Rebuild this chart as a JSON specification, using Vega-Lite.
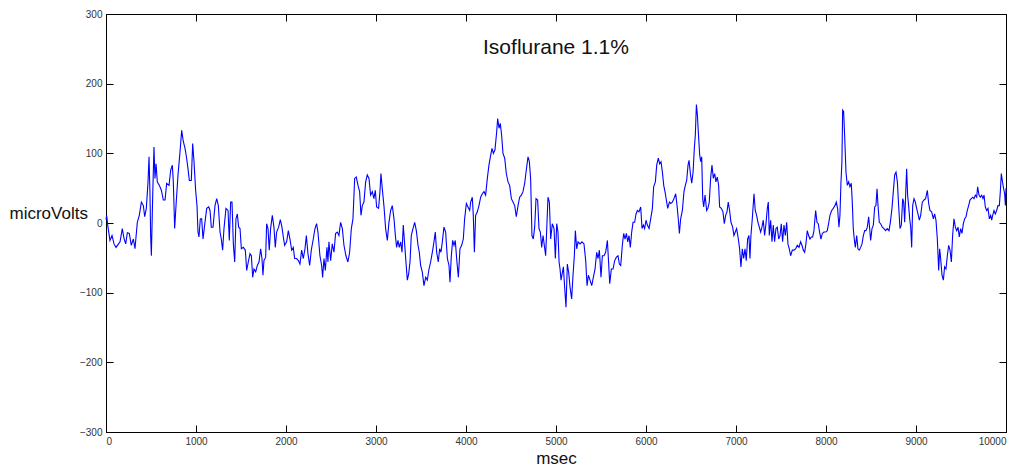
{
  "$schema": "https://vega.github.io/schema/vega-lite/v6.json",
  "width": 900,
  "height": 418,
  "autosize": {"type": "none"},
  "padding": {"left": 106, "top": 14, "right": 18, "bottom": 38},
  "background": "white",
  "title": {
    "text": "Isoflurane 1.1%",
    "frame": "group",
    "anchor": "middle",
    "offset": -49,
    "font": "Liberation Sans",
    "fontSize": 21,
    "fontWeight": "normal",
    "color": "#111111"
  },
  "data": {
    "values": [
      {"t":0,"v":5},{"t":7,"v":11},{"t":22,"v":-6},{"t":44,"v":-25},{"t":67,"v":-18},{"t":89,"v":-30},{"t":111,"v":-35},{"t":133,"v":-31},{"t":156,"v":-27},{"t":181,"v":-8},{"t":200,"v":-22},{"t":219,"v":-30},{"t":237,"v":-14},{"t":259,"v":-15},{"t":281,"v":-32},{"t":304,"v":-23},{"t":322,"v":-37},{"t":348,"v":1},{"t":370,"v":11},{"t":393,"v":30},{"t":415,"v":25},{"t":430,"v":9},{"t":448,"v":21},{"t":467,"v":59},{"t":478,"v":95},{"t":489,"v":40},{"t":496,"v":-18},{"t":504,"v":-47},{"t":519,"v":40},{"t":533,"v":109},{"t":544,"v":64},{"t":556,"v":85},{"t":570,"v":59},{"t":593,"v":54},{"t":615,"v":47},{"t":637,"v":33},{"t":656,"v":33},{"t":674,"v":57},{"t":700,"v":54},{"t":719,"v":76},{"t":737,"v":83},{"t":748,"v":59},{"t":763,"v":-8},{"t":778,"v":25},{"t":800,"v":69},{"t":819,"v":97},{"t":841,"v":133},{"t":859,"v":117},{"t":878,"v":107},{"t":896,"v":93},{"t":911,"v":78},{"t":926,"v":61},{"t":948,"v":61},{"t":963,"v":114},{"t":978,"v":88},{"t":996,"v":47},
      {"t":1011,"v":25},{"t":1022,"v":-13},{"t":1033,"v":-20},{"t":1048,"v":6},{"t":1063,"v":6},{"t":1078,"v":-23},{"t":1096,"v":-3},{"t":1119,"v":21},{"t":1141,"v":23},{"t":1156,"v":18},{"t":1170,"v":-6},{"t":1189,"v":-6},{"t":1211,"v":25},{"t":1230,"v":35},{"t":1248,"v":25},{"t":1267,"v":-13},{"t":1281,"v":-23},{"t":1296,"v":-39},{"t":1311,"v":-8},{"t":1333,"v":21},{"t":1356,"v":18},{"t":1370,"v":-25},{"t":1385,"v":30},{"t":1400,"v":30},{"t":1415,"v":-30},{"t":1430,"v":-56},{"t":1444,"v":6},{"t":1459,"v":13},{"t":1474,"v":-6},{"t":1489,"v":-8},{"t":1504,"v":-37},{"t":1526,"v":-35},{"t":1548,"v":-39},{"t":1563,"v":-68},{"t":1581,"v":-56},{"t":1600,"v":-44},{"t":1615,"v":-47},{"t":1630,"v":-78},{"t":1644,"v":-66},{"t":1663,"v":-70},{"t":1681,"v":-61},{"t":1700,"v":-56},{"t":1718,"v":-37},{"t":1733,"v":-51},{"t":1744,"v":-75},{"t":1755,"v":-54},{"t":1774,"v":-49},{"t":1785,"v":-1},{"t":1800,"v":-8},{"t":1814,"v":-39},{"t":1829,"v":-8},{"t":1848,"v":11},{"t":1866,"v":-6},{"t":1881,"v":-35},{"t":1896,"v":-13},{"t":1918,"v":-6},{"t":1937,"v":5},{"t":1955,"v":-6},{"t":1970,"v":-20},{"t":1985,"v":-32},
      {"t":2007,"v":-27},{"t":2026,"v":-11},{"t":2044,"v":-23},{"t":2063,"v":-39},{"t":2081,"v":-35},{"t":2096,"v":-51},{"t":2118,"v":-51},{"t":2137,"v":-54},{"t":2155,"v":-59},{"t":2174,"v":-39},{"t":2192,"v":-51},{"t":2211,"v":-37},{"t":2226,"v":-18},{"t":2244,"v":-44},{"t":2263,"v":-61},{"t":2281,"v":-39},{"t":2303,"v":-23},{"t":2322,"v":-8},{"t":2340,"v":-1},{"t":2355,"v":-13},{"t":2377,"v":-47},{"t":2396,"v":-61},{"t":2407,"v":-78},{"t":2422,"v":-51},{"t":2437,"v":-68},{"t":2455,"v":-35},{"t":2466,"v":-56},{"t":2477,"v":-27},{"t":2496,"v":-54},{"t":2514,"v":-30},{"t":2533,"v":-42},{"t":2551,"v":-15},{"t":2570,"v":-13},{"t":2588,"v":-18},{"t":2607,"v":1},{"t":2626,"v":-8},{"t":2644,"v":-32},{"t":2666,"v":-47},{"t":2688,"v":-56},{"t":2707,"v":-42},{"t":2726,"v":-8},{"t":2744,"v":6},{"t":2763,"v":64},{"t":2781,"v":66},{"t":2800,"v":54},{"t":2818,"v":45},{"t":2833,"v":11},{"t":2848,"v":25},{"t":2866,"v":30},{"t":2885,"v":59},{"t":2903,"v":69},{"t":2922,"v":64},{"t":2940,"v":40},{"t":2959,"v":45},{"t":2977,"v":35},{"t":2992,"v":47},
      {"t":3007,"v":23},{"t":3029,"v":21},{"t":3044,"v":45},{"t":3055,"v":71},{"t":3070,"v":49},{"t":3088,"v":25},{"t":3107,"v":-8},{"t":3126,"v":-25},{"t":3144,"v":1},{"t":3163,"v":18},{"t":3181,"v":25},{"t":3200,"v":6},{"t":3215,"v":-18},{"t":3229,"v":-35},{"t":3244,"v":-25},{"t":3259,"v":-35},{"t":3274,"v":-27},{"t":3289,"v":-42},{"t":3303,"v":-3},{"t":3330,"v":-51},{"t":3348,"v":-82},{"t":3363,"v":-73},{"t":3378,"v":-56},{"t":3392,"v":-18},{"t":3411,"v":-8},{"t":3430,"v":1},{"t":3448,"v":-11},{"t":3467,"v":-32},{"t":3481,"v":-42},{"t":3496,"v":-61},{"t":3515,"v":-71},{"t":3533,"v":-90},{"t":3552,"v":-78},{"t":3570,"v":-82},{"t":3589,"v":-66},{"t":3607,"v":-56},{"t":3630,"v":-39},{"t":3644,"v":-27},{"t":3659,"v":-13},{"t":3674,"v":-42},{"t":3692,"v":-56},{"t":3707,"v":-37},{"t":3722,"v":-42},{"t":3737,"v":-27},{"t":3755,"v":-6},{"t":3774,"v":-13},{"t":3793,"v":-51},{"t":3811,"v":-61},{"t":3822,"v":-85},{"t":3837,"v":-47},{"t":3852,"v":-25},{"t":3867,"v":-32},{"t":3881,"v":-25},{"t":3896,"v":-51},{"t":3915,"v":-78},{"t":3933,"v":-37},{"t":3952,"v":-32},{"t":3970,"v":-23},{"t":3985,"v":6},
      {"t":4004,"v":28},{"t":4022,"v":23},{"t":4041,"v":18},{"t":4052,"v":30},{"t":4070,"v":37},{"t":4081,"v":11},{"t":4093,"v":-42},{"t":4107,"v":11},{"t":4126,"v":16},{"t":4144,"v":25},{"t":4163,"v":37},{"t":4181,"v":42},{"t":4200,"v":45},{"t":4218,"v":40},{"t":4237,"v":64},{"t":4255,"v":83},{"t":4274,"v":97},{"t":4289,"v":107},{"t":4304,"v":100},{"t":4322,"v":105},{"t":4341,"v":131},{"t":4352,"v":150},{"t":4367,"v":136},{"t":4381,"v":143},{"t":4396,"v":126},{"t":4411,"v":100},{"t":4430,"v":93},{"t":4448,"v":71},{"t":4467,"v":59},{"t":4485,"v":54},{"t":4504,"v":35},{"t":4522,"v":30},{"t":4541,"v":25},{"t":4559,"v":9},{"t":4578,"v":25},{"t":4596,"v":37},{"t":4615,"v":40},{"t":4633,"v":45},{"t":4652,"v":57},{"t":4670,"v":76},{"t":4689,"v":95},{"t":4704,"v":88},{"t":4718,"v":64},{"t":4733,"v":-18},{"t":4748,"v":-23},{"t":4763,"v":-6},{"t":4778,"v":35},{"t":4796,"v":33},{"t":4811,"v":-8},{"t":4826,"v":-13},{"t":4841,"v":-35},{"t":4856,"v":-18},{"t":4870,"v":-32},{"t":4885,"v":-47},{"t":4900,"v":1},{"t":4911,"v":37},{"t":4926,"v":30},{"t":4941,"v":-23},{"t":4959,"v":-1},{"t":4978,"v":-8},{"t":4993,"v":-51},
      {"t":5008,"v":-1},{"t":5022,"v":-13},{"t":5034,"v":-56},{"t":5045,"v":-66},{"t":5056,"v":-82},{"t":5071,"v":-71},{"t":5082,"v":-63},{"t":5097,"v":-94},{"t":5111,"v":-121},{"t":5126,"v":-59},{"t":5141,"v":-71},{"t":5156,"v":-92},{"t":5174,"v":-109},{"t":5189,"v":-75},{"t":5204,"v":-47},{"t":5215,"v":-11},{"t":5230,"v":-37},{"t":5245,"v":-27},{"t":5267,"v":-30},{"t":5289,"v":-27},{"t":5311,"v":-30},{"t":5330,"v":-54},{"t":5345,"v":-90},{"t":5360,"v":-75},{"t":5378,"v":-82},{"t":5397,"v":-90},{"t":5415,"v":-78},{"t":5434,"v":-66},{"t":5452,"v":-42},{"t":5467,"v":-51},{"t":5482,"v":-39},{"t":5500,"v":-78},{"t":5515,"v":-47},{"t":5534,"v":-47},{"t":5552,"v":-42},{"t":5571,"v":-25},{"t":5582,"v":-51},{"t":5597,"v":-87},{"t":5615,"v":-66},{"t":5634,"v":-66},{"t":5652,"v":-54},{"t":5671,"v":-49},{"t":5689,"v":-47},{"t":5704,"v":-59},{"t":5719,"v":-61},{"t":5737,"v":-32},{"t":5752,"v":-15},{"t":5767,"v":-23},{"t":5782,"v":-15},{"t":5797,"v":-27},{"t":5811,"v":-18},{"t":5826,"v":-35},{"t":5841,"v":-13},{"t":5856,"v":1},{"t":5874,"v":1},{"t":5889,"v":13},{"t":5904,"v":18},{"t":5922,"v":16},{"t":5941,"v":23},{"t":5956,"v":-8},{"t":5971,"v":-3},{"t":5985,"v":-8},
      {"t":6000,"v":4},{"t":6015,"v":-3},{"t":6034,"v":-8},{"t":6052,"v":6},{"t":6071,"v":21},{"t":6085,"v":52},{"t":6104,"v":59},{"t":6119,"v":83},{"t":6137,"v":93},{"t":6152,"v":85},{"t":6167,"v":88},{"t":6182,"v":73},{"t":6197,"v":54},{"t":6211,"v":45},{"t":6226,"v":33},{"t":6241,"v":21},{"t":6260,"v":30},{"t":6274,"v":28},{"t":6293,"v":30},{"t":6311,"v":35},{"t":6330,"v":42},{"t":6345,"v":25},{"t":6360,"v":4},{"t":6371,"v":-15},{"t":6385,"v":6},{"t":6404,"v":18},{"t":6422,"v":45},{"t":6437,"v":54},{"t":6452,"v":61},{"t":6467,"v":83},{"t":6478,"v":90},{"t":6493,"v":71},{"t":6508,"v":57},{"t":6523,"v":73},{"t":6537,"v":107},{"t":6548,"v":126},{"t":6560,"v":170},{"t":6571,"v":155},{"t":6582,"v":129},{"t":6597,"v":97},{"t":6608,"v":88},{"t":6619,"v":95},{"t":6630,"v":35},{"t":6641,"v":23},{"t":6656,"v":40},{"t":6674,"v":18},{"t":6688,"v":21},{"t":6703,"v":30},{"t":6718,"v":64},{"t":6733,"v":83},{"t":6748,"v":64},{"t":6763,"v":71},{"t":6777,"v":59},{"t":6792,"v":66},{"t":6807,"v":54},{"t":6818,"v":23},{"t":6837,"v":21},{"t":6855,"v":16},{"t":6870,"v":-1},{"t":6885,"v":11},{"t":6900,"v":16},{"t":6914,"v":30},{"t":6929,"v":18},{"t":6944,"v":1},{"t":6963,"v":-6},{"t":6977,"v":-18},{"t":6992,"v":-13},
      {"t":7007,"v":-8},{"t":7026,"v":-23},{"t":7040,"v":-37},{"t":7055,"v":-63},{"t":7070,"v":-37},{"t":7085,"v":-51},{"t":7100,"v":-37},{"t":7114,"v":-54},{"t":7129,"v":-23},{"t":7144,"v":-18},{"t":7155,"v":-51},{"t":7166,"v":-18},{"t":7181,"v":6},{"t":7200,"v":42},{"t":7214,"v":18},{"t":7229,"v":11},{"t":7244,"v":1},{"t":7259,"v":-6},{"t":7274,"v":-13},{"t":7288,"v":-6},{"t":7303,"v":4},{"t":7318,"v":-18},{"t":7333,"v":-1},{"t":7348,"v":21},{"t":7359,"v":30},{"t":7370,"v":-18},{"t":7385,"v":4},{"t":7400,"v":-27},{"t":7414,"v":-3},{"t":7429,"v":-27},{"t":7444,"v":-8},{"t":7459,"v":-6},{"t":7474,"v":-23},{"t":7489,"v":-18},{"t":7503,"v":-1},{"t":7518,"v":-27},{"t":7533,"v":-3},{"t":7548,"v":-18},{"t":7563,"v":1},{"t":7577,"v":-30},{"t":7592,"v":-37},{"t":7607,"v":-47},{"t":7626,"v":-39},{"t":7644,"v":-39},{"t":7663,"v":-37},{"t":7681,"v":-32},{"t":7700,"v":-35},{"t":7718,"v":-27},{"t":7733,"v":-32},{"t":7748,"v":-39},{"t":7763,"v":-42},{"t":7777,"v":-30},{"t":7792,"v":-11},{"t":7807,"v":-18},{"t":7822,"v":-23},{"t":7837,"v":-20},{"t":7852,"v":-20},{"t":7866,"v":-11},{"t":7885,"v":18},{"t":7900,"v":1},{"t":7914,"v":-1},{"t":7929,"v":-13},{"t":7944,"v":-23},{"t":7959,"v":-15},{"t":7977,"v":-13},{"t":7996,"v":-13},
      {"t":8014,"v":-11},{"t":8029,"v":-1},{"t":8044,"v":11},{"t":8063,"v":18},{"t":8081,"v":21},{"t":8100,"v":25},{"t":8114,"v":30},{"t":8129,"v":21},{"t":8144,"v":-6},{"t":8155,"v":11},{"t":8166,"v":57},{"t":8177,"v":88},{"t":8185,"v":162},{"t":8196,"v":160},{"t":8207,"v":126},{"t":8222,"v":73},{"t":8237,"v":54},{"t":8252,"v":59},{"t":8266,"v":52},{"t":8281,"v":57},{"t":8292,"v":30},{"t":8303,"v":-8},{"t":8314,"v":-23},{"t":8326,"v":-35},{"t":8341,"v":-18},{"t":8355,"v":-37},{"t":8370,"v":-39},{"t":8385,"v":-35},{"t":8400,"v":-30},{"t":8415,"v":-18},{"t":8430,"v":-11},{"t":8444,"v":-11},{"t":8459,"v":-6},{"t":8474,"v":9},{"t":8485,"v":-8},{"t":8496,"v":-25},{"t":8511,"v":-8},{"t":8526,"v":-3},{"t":8541,"v":23},{"t":8555,"v":25},{"t":8567,"v":49},{"t":8578,"v":25},{"t":8592,"v":1},{"t":8607,"v":-1},{"t":8626,"v":-6},{"t":8644,"v":-8},{"t":8663,"v":-11},{"t":8681,"v":-8},{"t":8700,"v":-11},{"t":8715,"v":1},{"t":8733,"v":21},{"t":8748,"v":45},{"t":8763,"v":69},{"t":8778,"v":73},{"t":8793,"v":59},{"t":8807,"v":25},{"t":8822,"v":-8},{"t":8837,"v":-3},{"t":8852,"v":35},{"t":8863,"v":30},{"t":8874,"v":1},{"t":8885,"v":40},{"t":8896,"v":78},{"t":8907,"v":40},{"t":8918,"v":25},{"t":8930,"v":6},{"t":8941,"v":-6},{"t":8952,"v":-35},{"t":8963,"v":25},{"t":8978,"v":35},{"t":8993,"v":30},
      {"t":9007,"v":21},{"t":9022,"v":13},{"t":9037,"v":4},{"t":9052,"v":11},{"t":9070,"v":30},{"t":9089,"v":33},{"t":9107,"v":35},{"t":9126,"v":47},{"t":9141,"v":28},{"t":9155,"v":18},{"t":9174,"v":16},{"t":9193,"v":6},{"t":9207,"v":13},{"t":9222,"v":4},{"t":9237,"v":-23},{"t":9252,"v":-68},{"t":9263,"v":-37},{"t":9274,"v":-51},{"t":9289,"v":-75},{"t":9304,"v":-82},{"t":9318,"v":-63},{"t":9333,"v":-66},{"t":9348,"v":-47},{"t":9363,"v":-32},{"t":9378,"v":-39},{"t":9393,"v":-56},{"t":9407,"v":-18},{"t":9422,"v":6},{"t":9437,"v":-6},{"t":9452,"v":-11},{"t":9467,"v":-6},{"t":9481,"v":-20},{"t":9496,"v":-8},{"t":9511,"v":-15},{"t":9526,"v":-1},{"t":9541,"v":6},{"t":9556,"v":9},{"t":9570,"v":18},{"t":9585,"v":25},{"t":9600,"v":33},{"t":9615,"v":35},{"t":9630,"v":37},{"t":9644,"v":35},{"t":9659,"v":40},{"t":9674,"v":37},{"t":9685,"v":52},{"t":9700,"v":40},{"t":9715,"v":37},{"t":9730,"v":40},{"t":9744,"v":35},{"t":9756,"v":40},{"t":9770,"v":23},{"t":9785,"v":18},{"t":9800,"v":21},{"t":9815,"v":6},{"t":9830,"v":11},{"t":9841,"v":4},{"t":9852,"v":11},{"t":9867,"v":18},{"t":9881,"v":13},{"t":9896,"v":18},{"t":9911,"v":25},{"t":9926,"v":25},{"t":9937,"v":45},{"t":9948,"v":71},{"t":9959,"v":61},{"t":9970,"v":52},{"t":9985,"v":42},{"t":9993,"v":25},{"t":10000,"v":50}
    ]
  },
  "layer": [
    {
      "mark": {"type": "line", "color": "#0000ff", "strokeWidth": 1.1, "interpolate": "linear"},
      "encoding": {
        "x": {
          "field": "t", "type": "quantitative",
          "scale": {"domain": [0, 10000], "nice": false, "zero": false},
          "axis": {
            "orient": "bottom", "values": [0,1000,2000,3000,4000,5000,6000,7000,8000,9000,10000],
            "format": "d", "title": "msec", "titleFontSize": 17, "titlePadding": 4
          }
        },
        "y": {
          "field": "v", "type": "quantitative",
          "scale": {"domain": [-300, 300], "nice": false, "zero": false},
          "axis": {
            "orient": "left", "values": [-300,-200,-100,0,100,200,300],
            "format": "d", "title": "microVolts", "titleFontSize": 17,
            "titleAngle": 0, "titleAlign": "left", "titleBaseline": "middle",
            "titleX": -97, "titleY": 199
          }
        }
      }
    },
    {
      "mark": {"type": "line", "strokeOpacity": 0},
      "encoding": {
        "x": {
          "field": "t", "type": "quantitative",
          "axis": {"orient": "top", "values": [0,1000,2000,3000,4000,5000,6000,7000,8000,9000,10000], "labels": false, "title": null}
        },
        "y": {
          "field": "v", "type": "quantitative",
          "axis": {"orient": "right", "values": [-300,-200,-100,0,100,200,300], "labels": false, "title": null}
        }
      }
    }
  ],
  "resolve": {"axis": {"x": "independent", "y": "independent"}},
  "config": {
    "view": {"stroke": "#000000", "strokeWidth": 1},
    "axis": {
      "grid": false,
      "domainColor": "#000000",
      "domainWidth": 1,
      "tickColor": "#000000",
      "tickWidth": 1,
      "tickSize": -7,
      "labelPadding": 11,
      "labelColor": "#333333",
      "labelFont": "Liberation Sans",
      "labelFontSize": 10,
      "titleFont": "Liberation Sans",
      "titleFontWeight": "normal",
      "titleColor": "#111111"
    }
  }
}
